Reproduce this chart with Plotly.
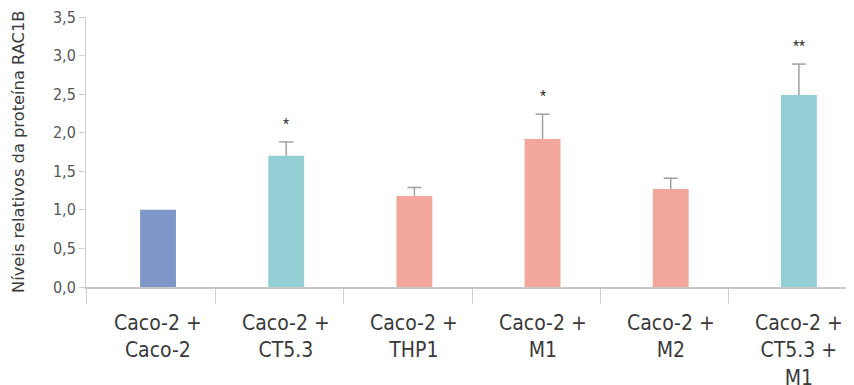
import plotly.graph_objects as go

categories = ["Caco-2 +<br>Caco-2", "Caco-2 +<br>CT5.3", "Caco-2 +<br>THP1",
              "Caco-2 +<br>M1", "Caco-2 +<br>M2", "Caco-2 +<br>CT5.3 +<br>M1"]
values = [1.0, 1.70, 1.18, 1.92, 1.27, 2.49]
errors = [0.0, 0.18, 0.11, 0.32, 0.14, 0.40]
colors = ["#7F96C8", "#95CFD6", "#F2A69C", "#F2A69C", "#F2A69C", "#95CFD6"]
signif = ["", "*", "", "*", "", "**"]
y_ticks = [0, 0.5, 1.0, 1.5, 2.0, 2.5, 3.0, 3.5]
y_ticktext = ["0,0", "0,5", "1,0", "1,5", "2,0", "2,5", "3,0", "3,5"]
y_title = "Níveis relativos da proteína RAC1B"

xs = list(range(len(categories)))
FONT = "DejaVu Sans Condensed, DejaVu Sans, sans-serif"
ERR_COLOR = "#A0A0A0"
TXT = "#3a3a3a"

fig = go.Figure()
fig.add_trace(go.Bar(x=xs, y=values, width=0.28,
                     marker=dict(color=colors, line=dict(width=0))))

# error bars (upward only)
ex, ey, cx, cy = [], [], [], []
for i, (v, e) in enumerate(zip(values, errors)):
    if e > 0:
        ex += [i, i, None]
        ey += [v, v + e, None]
        cx.append(i)
        cy.append(v + e)
fig.add_trace(go.Scatter(x=ex, y=ey, mode="lines",
                         line=dict(color=ERR_COLOR, width=1.5), hoverinfo="skip"))
fig.add_trace(go.Scatter(x=cx, y=cy, mode="markers",
                         marker=dict(symbol="line-ew-open", size=10, color=ERR_COLOR,
                                     line=dict(color=ERR_COLOR, width=1.5)),
                         hoverinfo="skip"))

for i, (v, e, s) in enumerate(zip(values, errors, signif)):
    if s:
        fig.add_annotation(x=i, y=v + e, text=s, showarrow=False, yanchor="bottom",
                           yshift=8, font=dict(family="Roboto", size=14, color="#333"))
    fig.add_annotation(x=i, y=0, yref="y", text=categories[i], showarrow=False,
                       yanchor="top", yshift=-22,
                       font=dict(family=FONT, size=21, color=TXT))

fig.add_annotation(xref="paper", yref="paper", x=-(78 - 10) / 768, y=0.5,
                   xanchor="center", yanchor="middle",
                   text=y_title, textangle=-90, showarrow=False,
                   font=dict(family="DejaVu Sans", size=16.3, color=TXT))

fig.update_layout(
    width=846, height=377, margin=dict(l=78, r=0, t=9, b=98),
    plot_bgcolor="white", paper_bgcolor="white", showlegend=False,
    xaxis=dict(range=[-0.562, 5.43], tickvals=[-0.562] + [i + 0.45 for i in range(5)],
               ticktext=[""] * 6, ticks="outside", ticklen=15, tickcolor="#D0D0D0",
               showline=True, linecolor="#C8C8C8", linewidth=1.5, showgrid=False,
               zeroline=False, automargin=False),
    yaxis=dict(range=[0, 3.5], tickvals=y_ticks, ticktext=y_ticktext, ticks="outside",
               ticklen=6, tickcolor="#D0D0D0", showline=True, linecolor="#D0D0D0",
               showgrid=False, zeroline=False, automargin=False,
               ticklabeloverflow="allow",
               tickfont=dict(family=FONT, size=16, color="#555")),
)

fig.write_html("out.html")
